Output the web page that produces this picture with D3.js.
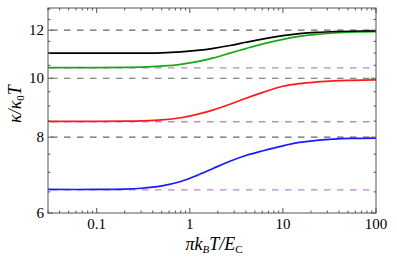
<!DOCTYPE html>
<html>
<head>
<meta charset="utf-8">
<script src="https://cdn.jsdelivr.net/npm/d3@7"></script>
<style>
  body { margin: 0; background: #fff; }
  svg text { font-family: "Liberation Serif", "Times New Roman", "DejaVu Serif", serif; }
</style>
</head>
<body>
<div id="chart"></div>
<script>
// temperature grid (pi kB T / Ec) shared by every curve
const tGrid = [0.03, 0.1, 0.2, 0.3, 0.5, 0.8, 1.2, 1.8, 2.7, 4, 6, 10, 15, 23, 35, 53, 100];

const blackVals = [11.0, 11.0, 11.0, 11.0, 11.01, 11.05, 11.11, 11.2, 11.32, 11.46, 11.6, 11.75, 11.84, 11.9, 11.93, 11.95, 11.97];
const greenVals = [10.41, 10.41, 10.42, 10.43, 10.47, 10.54, 10.65, 10.8, 11.0, 11.19, 11.38, 11.59, 11.72, 11.81, 11.87, 11.91, 11.93];
const redVals   = [8.49, 8.49, 8.5, 8.51, 8.54, 8.61, 8.72, 8.87, 9.06, 9.27, 9.47, 9.7, 9.8, 9.86, 9.9, 9.92, 9.94];
const blueVals  = [6.56, 6.56, 6.57, 6.59, 6.65, 6.76, 6.92, 7.11, 7.3, 7.46, 7.59, 7.74, 7.84, 7.9, 7.94, 7.96, 7.97];

const grayLevels = [8, 10, 12];
const purpleLevels = [6.55, 8.48, 10.4];

const xTickLabels = [0.1, 1, 10, 100];
const yTickLabels = [6, 8, 10, 12];

const width = 397, height = 266;
const margin = {left: 48, right: 21, top: 8, bottom: 53};

const svg = d3.select("#chart").append("svg")
    .attr("width", width)
    .attr("height", height);

const x = d3.scaleLog().domain([0.03, 100]).range([margin.left, width - margin.right]);
const y = d3.scaleLog().domain([6, 13.05]).range([height - margin.bottom, margin.top]);

const x0 = x.range()[0], x1 = x.range()[1];
const y0 = y.range()[0], y1 = y.range()[1];

// reference levels
svg.append("g").selectAll("line")
    .data(grayLevels)
    .enter().append("line")
    .attr("x1", x0).attr("x2", x1)
    .attr("y1", d => y(d)).attr("y2", d => y(d))
    .attr("stroke", "#666")
    .attr("stroke-width", 1.2)
    .attr("stroke-dasharray", "6.5,6.5")
    .attr("stroke-dashoffset", -3);

svg.append("g").selectAll("line")
    .data(purpleLevels)
    .enter().append("line")
    .attr("x1", x0).attr("x2", x1)
    .attr("y1", d => y(d)).attr("y2", d => y(d))
    .attr("stroke", "#bf88d0")
    .attr("stroke-width", 1.4)
    .attr("stroke-dasharray", "6.5,6.5")
    .attr("stroke-dashoffset", -3);

// curves
const line = d3.line()
    .x((d, i) => x(tGrid[i]))
    .y(d => y(d))
    .curve(d3.curveCatmullRom.alpha(0.5));

const series = [
    {vals: blueVals, color: "#1a1aff"},
    {vals: redVals, color: "#ff1a1a"},
    {vals: greenVals, color: "#14aa14"},
    {vals: blackVals, color: "#000"}
];

svg.append("g").selectAll("path")
    .data(series)
    .enter().append("path")
    .attr("d", d => line(d.vals))
    .attr("fill", "none")
    .attr("stroke", d => d.color)
    .attr("stroke-width", 1.7);

// frame and ticks
const frameColor = "#555";
svg.append("rect")
    .attr("x", x0).attr("y", y1)
    .attr("width", x1 - x0).attr("height", y0 - y1)
    .attr("fill", "none")
    .attr("stroke", frameColor)
    .attr("stroke-width", 1);

const xMinor = [];
[0.01, 0.1, 1, 10].forEach(dec => {
    for (let k = 2; k <= 9; k++) {
        const v = dec * k;
        if (v >= 0.03 && v <= 100) xMinor.push(v);
    }
});
const yMinor = [6.5, 7, 7.5, 8.5, 9, 9.5, 10.5, 11, 11.5, 12.5, 13];

const ticks = svg.append("g").attr("stroke", frameColor).attr("stroke-width", 1);
function xTicks(vals, len) {
    vals.forEach(v => {
        ticks.append("line").attr("x1", x(v)).attr("x2", x(v)).attr("y1", y0).attr("y2", y0 - len);
        ticks.append("line").attr("x1", x(v)).attr("x2", x(v)).attr("y1", y1).attr("y2", y1 + len);
    });
}
function yTicks(vals, len) {
    vals.forEach(v => {
        ticks.append("line").attr("y1", y(v)).attr("y2", y(v)).attr("x1", x0).attr("x2", x0 + len);
        ticks.append("line").attr("y1", y(v)).attr("y2", y(v)).attr("x1", x1).attr("x2", x1 - len);
    });
}
xTicks(xTickLabels, 5);
xTicks(xMinor, 2.5);
yTicks(yTickLabels, 5);
yTicks(yMinor, 2.5);

// tick labels
svg.append("g").selectAll("text")
    .data(xTickLabels)
    .enter().append("text")
    .attr("x", d => x(d))
    .attr("y", y0 + 16)
    .attr("text-anchor", "middle")
    .attr("font-size", 15)
    .text(d => d3.format("")(d));

svg.append("g").selectAll("text")
    .data(yTickLabels)
    .enter().append("text")
    .attr("x", x0 - 4)
    .attr("y", d => y(d) + 5)
    .attr("text-anchor", "end")
    .attr("font-size", 15)
    .text(d => d);

// axis titles
const xt = svg.append("text")
    .attr("x", 214)
    .attr("y", 250)
    .attr("text-anchor", "middle")
    .attr("font-size", 18)
    .attr("font-style", "italic");
xt.append("tspan").text("πk");
xt.append("tspan").attr("font-size", 11).attr("dy", 3).text("B");
xt.append("tspan").attr("dy", -3).text("T/E");
xt.append("tspan").attr("font-size", 11).attr("dy", 3).attr("font-style", "normal").text("C");

const yt = svg.append("text")
    .attr("transform", "translate(21,104) rotate(-90)")
    .attr("text-anchor", "middle")
    .attr("font-size", 18)
    .attr("font-style", "italic");
yt.append("tspan").text("κ/κ");
yt.append("tspan").attr("font-size", 11).attr("dy", 3).attr("font-style", "normal").text("0");
yt.append("tspan").attr("dy", -3).text("T");
</script>
</body>
</html>
